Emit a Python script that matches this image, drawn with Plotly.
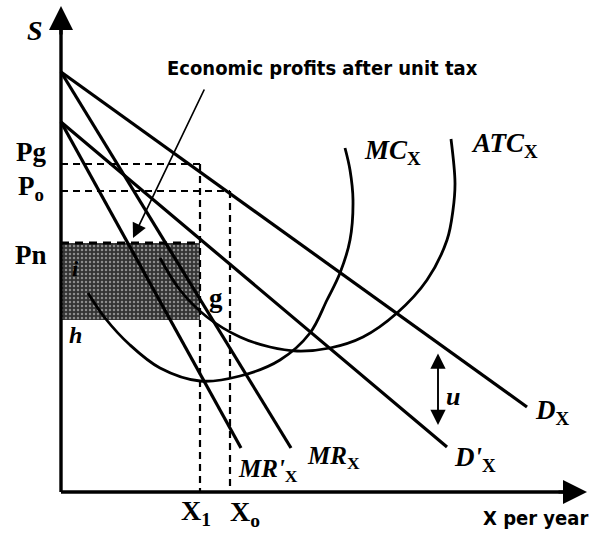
import plotly.graph_objects as go

# Demand and marginal revenue schedules, (quantity, price) end points
demand_q = [0, 466]
demand_p = [420, 85]
demand_tax_q = [0, 386]
demand_tax_p = [370, 45]
mr_q = [0, 230]
mr_p = [420, 44]
mr_tax_q = [0, 180]
mr_tax_p = [370, 44]

# Cost curves
mc_q = [27, 44, 69, 99, 139, 179, 219, 249, 266, 279, 289, 292, 289, 284]
mc_p = [199, 174, 147, 124, 111, 116, 132, 159, 192, 219, 252, 292, 322, 344]
atc_q = [99, 119, 146, 179, 209, 236, 269, 302, 336, 366, 386, 392, 394, 390]
atc_p = [234, 202, 175, 155, 145, 141, 144, 155, 179, 212, 252, 282, 309, 353]

# Reference prices and quantities
price_names = ["Pg", "Po", "Pn"]
price_levels = [328, 301, 249]
qty_names = ["X<sub>1</sub>", "X<sub>o</sub>"]
qty_levels = [139, 169]
profit_floor = 172          # average cost at X1 (bottom of the profit box)
tax_q = 377                 # where the unit tax u is marked
tax_top, tax_bottom = 140, 67

X_MAX, Y_MAX = 526, 486

SERIF = "Liberation Serif"
NARROW = "Liberation Sans Narrow, DejaVu Sans Condensed, Arial Narrow, sans-serif"
INK = "#000000"

fig = go.Figure()

# Economic profit rectangle
x1, xo = qty_levels
pg, po, pn = price_levels
fig.add_trace(go.Scatter(
    x=[0, x1, x1, 0, 0], y=[profit_floor, profit_floor, pn, pn, profit_floor],
    mode="lines", fill="toself", line=dict(width=0),
    fillcolor="#3a3a3a",
    fillpattern=dict(shape=".", fgcolor="#8c8c8c", bgcolor="#333333",
                     size=4, solidity=0.3, fillmode="replace"),
    hoverinfo="skip", showlegend=False))

def line(q, p, width=3, dash=None, shape="linear"):
    fig.add_trace(go.Scatter(
        x=q, y=p, mode="lines",
        line=dict(color=INK, width=width, dash=dash, shape=shape, smoothing=1.0),
        hoverinfo="skip", showlegend=False))

# Demand and MR lines
line(demand_q, demand_p, width=3.2)
line(demand_tax_q, demand_tax_p, width=3.2)
line(mr_q, mr_p, width=3.2)
line(mr_tax_q, mr_tax_p, width=3.2)

# Cost curves
line(mc_q, mc_p, width=2.8, shape="spline")
line(atc_q, atc_p, width=2.8, shape="spline")

# Dashed guides
dash = "7px,5px"
line([0, x1], [pg, pg], width=2.2, dash=dash)
line([x1, x1], [pg, 0], width=2.2, dash=dash)
line([0, xo], [po, po], width=2.2, dash=dash)
line([xo, xo], [po, 0], width=2.2, dash=dash)
line([0, x1], [pn, pn], width=3.2, dash="8px,6px")

# Axes
line([0, 0], [0, Y_MAX - 10], width=3.4)
line([0, X_MAX - 10], [0, 0], width=3.4)

annotations = []

def arrow(x, y, ax, ay, width=2, size=1.2, side="end"):
    annotations.append(dict(
        x=x, y=y, ax=ax, ay=ay, xref="x", yref="y", axref="x", ayref="y",
        text="", showarrow=True, arrowhead=2, arrowsize=size,
        arrowwidth=width, arrowcolor=INK, arrowside=side))

arrow(0, Y_MAX, 0, Y_MAX - 30, width=3.2, size=1.5)
arrow(X_MAX, 0, X_MAX - 30, 0, width=3.2, size=1.5)
arrow(72, 254, 144, 404, width=1.7, size=1.7)
arrow(tax_q, tax_bottom, tax_q, tax_top, width=1.9, size=1.6, side="end+start")

def label(x, y, text, size=22, family=SERIF):
    annotations.append(dict(
        x=x, y=y, xref="x", yref="y", text=text, showarrow=False,
        xanchor="center", yanchor="middle",
        font=dict(family=family, size=size, color=INK)))

label(-26, 462, "<b><i>S</i></b>", size=28)
label(-30, pg + 12, "<b>" + price_names[0] + "</b>", size=27)
label(-30, po + 3, "<b>" + price_names[1][0] + "<sub>" + price_names[1][1] + "</sub></b>", size=27)
label(-30, pn - 12, "<b>" + price_names[2] + "</b>", size=27)
label(14, 224, "<b><i>i</i></b>", size=22)
label(14, 157, "<b><i>h</i></b>", size=24)
label(155, 194, "<b>g</b>", size=27)
label(x1 - 4, -20, "<b>" + qty_names[0] + "</b>", size=28)
label(xo + 15, -21, "<b>" + qty_names[1] + "</b>", size=28)
label(331, 340, "<b><i>MC</i><sub>X</sub></b>", size=27)
label(443, 347, "<b><i>ATC</i><sub>X</sub></b>", size=27)
label(491, 80, "<b><i>D</i><sub>X</sub></b>", size=27)
label(414, 33, "<b><i>D'</i><sub>X</sub></b>", size=27)
label(207, 22, "<b><i>MR'</i><sub>X</sub></b>", size=25)
label(272, 35, "<b><i>MR</i><sub>X</sub></b>", size=25)
label(392, 96, "<b><i>u</i></b>", size=26)
label(261, 424, "<b>Economic profits after unit tax</b>", size=20, family=NARROW)
label(474, -26, "<b>X per year</b>", size=20, family=NARROW)

fig.update_layout(
    width=593, height=540, margin=dict(l=0, r=0, t=0, b=0),
    paper_bgcolor="white", plot_bgcolor="white",
    xaxis=dict(range=[-61, 532], visible=False, fixedrange=True),
    yaxis=dict(range=[-48, 492], visible=False, fixedrange=True),
    annotations=annotations,
)

fig.write_html("out.html")
